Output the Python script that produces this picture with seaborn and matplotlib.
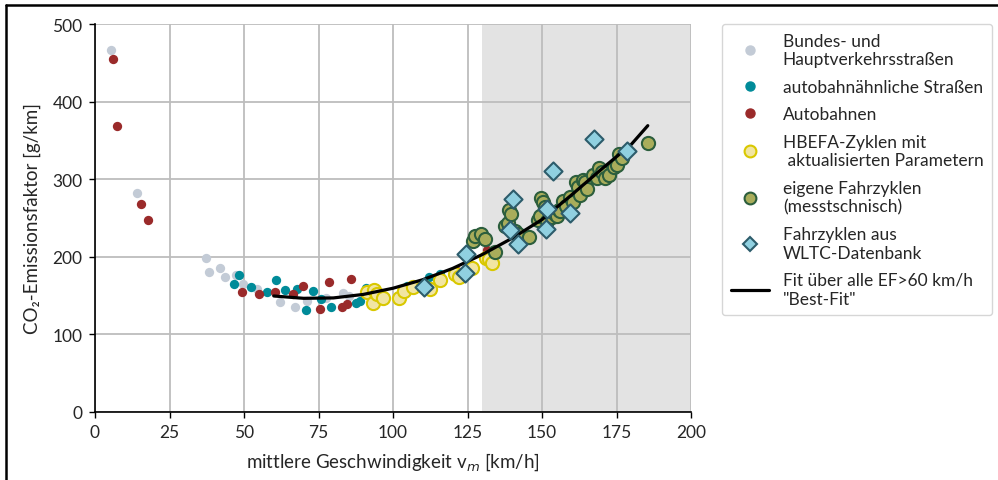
import numpy as np
import pandas as pd
import matplotlib
matplotlib.use("Agg")
import matplotlib.pyplot as plt
from matplotlib.lines import Line2D
import seaborn as sns

# ---------------- data ----------------
bund_v = [5.4, 14.1, 37.1, 38.4, 42.0, 43.5, 47.2, 49.8, 54.2, 62.1, 67.2, 71.0, 77.4, 83.3, 85.3]
bund_e = [466, 282, 198, 180, 185, 174, 176, 165, 159, 142, 135, 143, 147, 153, 150]

abs_v = [46.8, 48.4, 52.3, 57.7, 60.7, 63.6, 67.9, 70.9, 73.0, 75.8, 79.3, 87.6, 89.0, 91.0, 104.6, 112.2, 115.8]
abs_e = [165.5, 176, 161, 155, 170, 157, 159, 132, 156, 146, 135.5, 141, 143, 160, 163, 174, 177.5]

ab_v = [6.0, 7.4, 15.4, 17.8, 49.2, 55.1, 60.5, 66.3, 69.7, 75.5, 78.6, 83.0, 84.5, 85.8, 121.4, 131.4]
ab_e = [455, 368, 268, 247, 154, 152, 155, 152, 163, 133, 168, 135, 139, 172, 182, 209]

hb_v = [91.2, 93.4, 93.5, 94.5, 96.5, 102.0, 103.7, 106.8, 110.0, 112.4, 115.8, 120.8, 122.3, 126.4, 131.2, 132.3, 133.1]
hb_e = [154, 140, 157, 152, 147, 147.5, 156, 161, 163, 158, 170, 177.5, 174.6, 186, 199, 197.7, 192]

own_v = [126.7, 127.5, 129.5, 130.9, 134.2, 137.6, 138.5, 139.0, 139.5, 140.9, 141.8, 145.7,
         148.8, 149.3, 149.8, 150.5, 151.0, 151.6, 152.5, 153.2, 154.5, 155.1, 155.8, 156.0,
         157.2, 158.0, 159.4, 160.5, 161.4, 162.2, 162.8, 163.9, 164.4, 165.0, 167.2, 168.5,
         169.2, 170.0, 171.1, 172.5, 174.3, 175.0, 175.9, 177.0, 185.7]
own_e = [220, 227, 230, 222.5, 206, 240, 243, 260, 255, 233.6, 229, 226,
         248, 252, 276, 270, 264, 246, 258, 251, 255, 252, 260, 259,
         272, 266, 277, 270, 296, 290, 280, 299, 296, 287, 306, 302,
         314, 309, 301, 306, 315.6, 318, 332, 327, 347]

wltc_v = [110.4, 124.2, 124.5, 139.3, 140.4, 142.0, 151.3, 151.6, 153.6, 159.4, 167.4, 178.6]
wltc_e = [161, 179, 204, 235, 274, 217, 236, 262, 311, 257, 352, 336]

fit_v = [60, 70, 80, 90, 100, 110, 120, 130, 140, 150, 160, 170, 180, 185.5]
fit_e = [149.5, 146.5, 147, 151.5, 159.5, 170.5, 185, 203, 224, 248, 280, 313, 345, 369]

labels = ["Bundes- und\nHauptverkehrsstraßen",
          "autobahnähnliche Straßen",
          "Autobahnen",
          "HBEFA-Zyklen mit\n aktualisierten Parametern",
          "eigene Fahrzyklen\n(messtschnisch)",
          "Fahrzyklen aus\nWLTC-Datenbank",
          "Fit über alle EF>60 km/h\n\"Best-Fit\""]

x_ticks = [0, 25, 50, 75, 100, 125, 150, 175, 200]
y_ticks = [0, 100, 200, 300, 400, 500]

# ---------------- style ----------------
sns.set_style("ticks")
plt.rcParams["font.family"] = ["Lato", "DejaVu Sans"]
plt.rcParams["mathtext.fontset"] = "dejavusans"

C_GREY = "#c3cbd6"
C_TEAL = "#008b99"
C_RED = "#9a2a2a"
C_YEL_F, C_YEL_E = "#f1e5a2", "#d9c800"
C_GRN_F, C_GRN_E = "#a9ad5b", "#2c5e3d"
C_DIA_F, C_DIA_E = "#90d0e0", "#2d5c6b"

fig = plt.figure(figsize=(9.98, 4.81), dpi=100)
ax = fig.add_axes([95 / 998, 1 - 413 / 481, (691 - 95) / 998, (413 - 25) / 481])

ax.axvspan(130, 200, color="#e3e3e3", zorder=0, lw=0)
ax.set_axisbelow(True)
ax.grid(True, color="#bdbdbd", lw=1.3)

def df(v, e):
    return pd.DataFrame({"v": v, "e": e})

sns.scatterplot(data=df(bund_v, bund_e), x="v", y="e", ax=ax, color=C_GREY, s=45,
                linewidth=0, zorder=3)
sns.scatterplot(data=df(abs_v, abs_e), x="v", y="e", ax=ax, color=C_TEAL, s=45,
                linewidth=0, zorder=3)
sns.scatterplot(data=df(ab_v, ab_e), x="v", y="e", ax=ax, color=C_RED, s=45,
                linewidth=0, zorder=3)
sns.scatterplot(data=df(hb_v, hb_e), x="v", y="e", ax=ax, color=C_YEL_F, s=90,
                edgecolor=C_YEL_E, linewidth=1.5, zorder=4)
sns.scatterplot(data=df(own_v, own_e), x="v", y="e", ax=ax, color=C_GRN_F, s=90,
                edgecolor=C_GRN_E, linewidth=1.5, zorder=4)
sns.lineplot(data=df(fit_v, fit_e), x="v", y="e", ax=ax, color="black", lw=2.3,
             zorder=5, sort=True)
sns.scatterplot(data=df(wltc_v, wltc_e), x="v", y="e", ax=ax, color=C_DIA_F, s=85,
                marker="D", edgecolor=C_DIA_E, linewidth=1.5, zorder=6)

ax.set_xlim(0, 200)
ax.set_ylim(0, 500)
ax.set_xticks(x_ticks)
ax.set_yticks(y_ticks)
ax.tick_params(labelsize=12.5, length=4, width=1, color="black", pad=5)
for s in ["top", "right"]:
    ax.spines[s].set_visible(False)
for s in ["left", "bottom"]:
    ax.spines[s].set_color("black")
    ax.spines[s].set_linewidth(1.2)

ax.set_xlabel(r"mittlere Geschwindigkeit v$_m$ [km/h]", fontsize=13.5, labelpad=7)
ax.set_ylabel("CO₂-Emissionsfaktor [g/km]", fontsize=13.5, labelpad=8)

handles = [
    Line2D([], [], ls="none", marker="o", ms=6.5, mfc=C_GREY, mec=C_GREY),
    Line2D([], [], ls="none", marker="o", ms=6.5, mfc=C_TEAL, mec=C_TEAL),
    Line2D([], [], ls="none", marker="o", ms=6.5, mfc=C_RED, mec=C_RED),
    Line2D([], [], ls="none", marker="o", ms=8.5, mfc=C_YEL_F, mec=C_YEL_E, mew=1.5),
    Line2D([], [], ls="none", marker="o", ms=8.5, mfc=C_GRN_F, mec=C_GRN_E, mew=1.5),
    Line2D([], [], ls="none", marker="D", ms=7.5, mfc=C_DIA_F, mec=C_DIA_E, mew=1.5),
    Line2D([], [], color="black", lw=2.3),
]
leg = fig.legend(handles, labels, loc="upper left",
                 bbox_to_anchor=(722 / 998, 1 - 25 / 481), fontsize=12.5,
                 frameon=True, fancybox=True, edgecolor="#cccccc",
                 handlelength=2.2, handletextpad=0.8, labelspacing=0.66,
                 borderpad=0.5, borderaxespad=0)
leg.get_frame().set_linewidth(1.0)

# outer frame lines of the original figure (left and top)
fig.add_artist(Line2D([6 / 998, 6 / 998], [0, 1 - 6 / 481], color="black", lw=1.8,
                      transform=fig.transFigure))
fig.add_artist(Line2D([6 / 998, 1], [1 - 6 / 481, 1 - 6 / 481], color="black", lw=1.8,
                      transform=fig.transFigure))

fig.savefig("out.png", dpi=100)
